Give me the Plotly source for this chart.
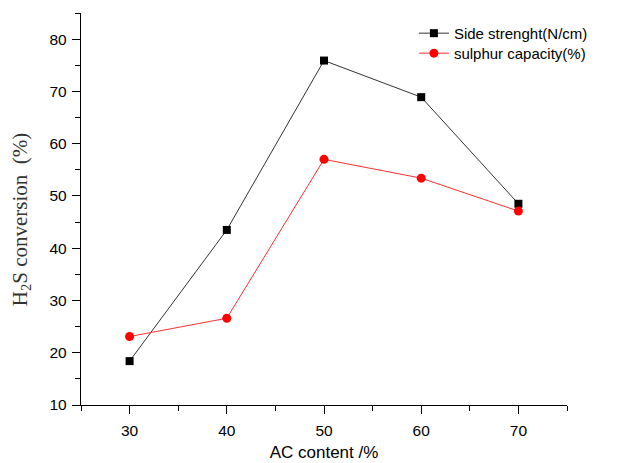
import plotly.graph_objects as go

ac_content = [30, 40, 50, 60, 70]
side_strength = [18.4, 43.5, 75.9, 68.9, 48.5]
sulphur_capacity = [23.1, 26.6, 57.0, 53.4, 47.1]

fig = go.Figure()
fig.add_trace(go.Scatter(
    x=ac_content, y=side_strength, mode="lines+markers",
    name="Side strenght(N/cm)", legend="legend",
    line=dict(color="#333333", width=1),
    marker=dict(symbol="square", size=8, color="black"),
))
fig.add_trace(go.Scatter(
    x=ac_content, y=sulphur_capacity, mode="lines+markers",
    name="sulphur capacity(%)", legend="legend2",
    line=dict(color="#ff3030", width=1),
    marker=dict(symbol="circle", size=9, color="red"),
))

def axis_style():
    return dict(
        showgrid=False, zeroline=False, showline=True, linecolor="black", linewidth=1.3,
        ticks="outside", ticklen=8, tickwidth=1, tickcolor="black", automargin=False,
        tickfont=dict(family="Liberation Sans, Arial", size=15.5, color="black"),
    )

legend_font = dict(family="Liberation Sans, Arial", size=15, color="black")

fig.update_layout(
    width=624, height=463,
    margin=dict(l=73, r=65, t=5, b=66),
    paper_bgcolor="white", plot_bgcolor="white",
    showlegend=True,
    legend=dict(x=0.685, y=0.99, xanchor="left", yanchor="top",
                bgcolor="rgba(0,0,0,0)", font=legend_font),
    legend2=dict(x=0.685, y=0.939, xanchor="left", yanchor="top",
                 bgcolor="rgba(0,0,0,0)", font=legend_font),
    xaxis=dict(range=[25, 75], tickvals=[30, 40, 50, 60, 70], ticklabelstandoff=3,
               title=dict(text="AC content /%", standoff=8,
                          font=dict(family="Liberation Sans, Arial", size=17, color="black")),
               minor=dict(tickvals=[25, 35, 45, 55, 65, 75], ticks="outside", ticklen=5,
                          tickcolor="black", tickwidth=1),
               **axis_style()),
    yaxis=dict(range=[10, 85], tickvals=[10, 20, 30, 40, 50, 60, 70, 80], ticklabelstandoff=2,
               title=dict(text="H<sub>2</sub>S conversion  (%)<span style='color:rgba(0,0,0,0)'>xx</span>",
                          standoff=20,
                          font=dict(family="Liberation Serif, Times New Roman", size=21, color="#333333")),
               minor=dict(tickvals=[15, 25, 35, 45, 55, 65, 75, 85], ticks="outside", ticklen=5,
                          tickcolor="black", tickwidth=1),
               **axis_style()),
)

fig.write_html("out.html")
